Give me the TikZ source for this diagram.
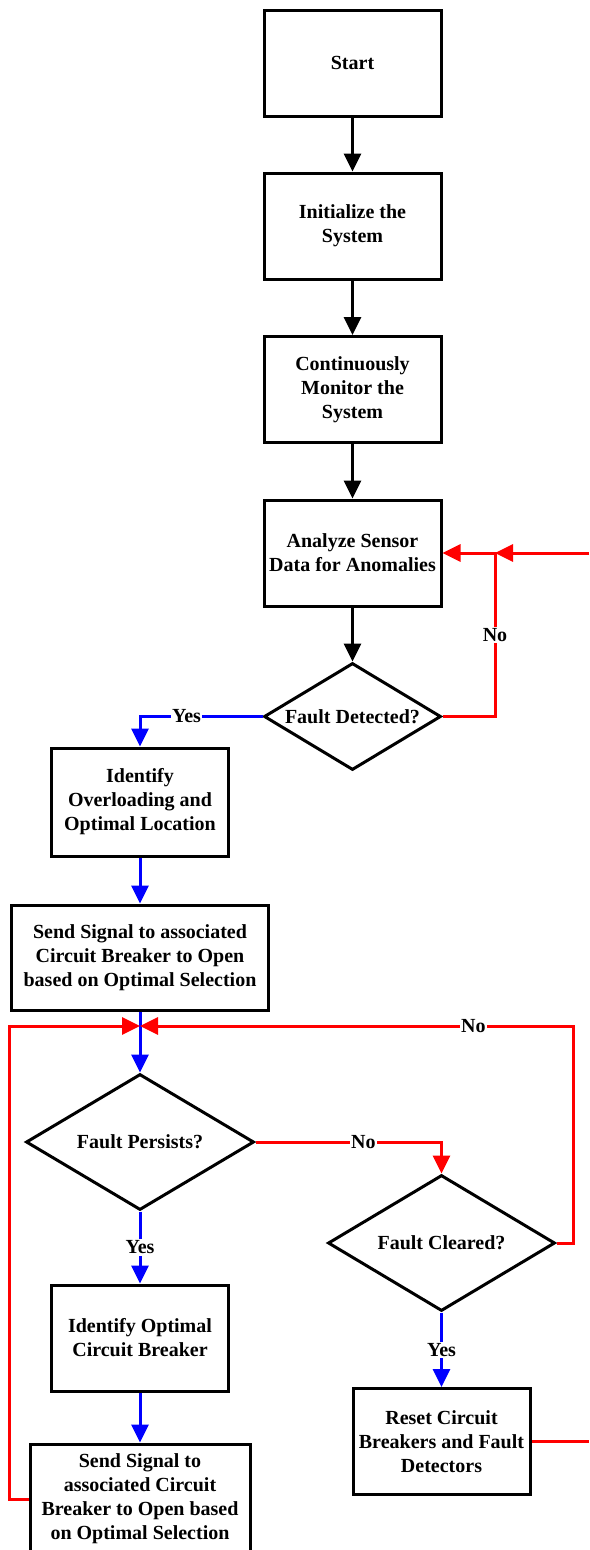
\documentclass[tikz,border=0pt]{standalone}
\usepackage{fontspec}
\setmainfont{Liberation Serif}
\usetikzlibrary{shapes.geometric,arrows.meta}

\begin{document}
\begin{tikzpicture}[x=1pt,y=-1pt,
    every node/.style={font=\bfseries\fontsize{20}{24}\selectfont,align=center},
    stepbox/.style={draw,line width=3pt,minimum width=177pt,minimum height=106pt,inner sep=2pt},
    decision/.style={draw,diamond,line width=3pt,inner sep=0pt},
    lbl/.style={fill=white,text=black,inner sep=1.5pt},
    flow/.style={line width=3pt,-{Triangle[length=18pt,width=17pt]}},
    yes/.style={blue},
    no/.style={red}]
    \useasboundingbox (0,0) rectangle (589,1550);

    \node[stepbox] (start) at (352.5,63) {Start};
    \node[stepbox] (init) at (352.5,226) {Initialize the\\System};
    \node[stepbox] (monitor) at (352.5,389.5) {Continuously\\Monitor the\\System};
    \node[stepbox] (analyze) at (352.5,553) {Analyze Sensor\\Data for Anomalies};
    \node[decision,minimum width=177pt,minimum height=107pt,
      label=center:{Fault Detected?}] (detect) at (352.5,716.5) {};

    \node[stepbox,minimum height=108pt] (overload) at (140,802) {Identify\\Overloading and\\Optimal Location};
    \node[stepbox,minimum width=257pt,minimum height=105pt] (send) at (140,957.5)
      {Send Signal to associated\\Circuit Breaker to Open\\based on Optimal Selection};
    \node[decision,minimum width=228pt,minimum height=136pt,
      label=center:{Fault Persists?}] (persist) at (140,1142) {};
    \node[stepbox] (optimal) at (140,1338) {Identify Optimal\\Circuit Breaker};
    \node[stepbox,minimum width=220pt,minimum height=110pt] (sendtwo) at (140,1499)
      {Send Signal to\\associated Circuit\\Breaker to Open based\\on Optimal Selection};

    \node[decision,minimum width=227pt,minimum height=136pt,
      label=center:{Fault Cleared?}] (cleared) at (441.5,1243) {};
    \node[stepbox] (reset) at (441.5,1441.5) {Reset Circuit\\Breakers and Fault\\Detectors};

    \coordinate (inR) at (589,553);
    \coordinate (jn) at (495,553);
    \coordinate (merge) at (140,1026);
    \coordinate (loopR) at (573,1026);
    \coordinate (loopL) at (9,1026);
    \coordinate (outR) at (589,1441.5);

    \draw[flow] (start) -- (init);
    \draw[flow] (init) -- (monitor);
    \draw[flow] (monitor) -- (analyze);
    \draw[flow] (analyze) -- (detect);

    \draw[flow,no] (detect.east) -| node[lbl,pos=0.75]{No} (jn) -- (analyze.east);
    \draw[flow,no] (inR) -- (jn);
    \draw[flow,yes] (detect.west) -| node[lbl,pos=0.31]{Yes} (overload.north);
    \draw[flow,yes] (overload) -- (send);
    \draw[flow,yes] (send.south) -- (persist.north);

    \draw[flow,no] (persist.east) -| node[lbl,pos=0.29]{No} (cleared.north);
    \draw[flow,no] (cleared.east) -| (loopR) -- node[lbl,pos=0.23]{No} (merge);
    \draw[flow,no] (sendtwo.west) -| (loopL) -- (merge);

    \draw[flow,yes] (persist.south) -- node[lbl]{Yes} (optimal.north);
    \draw[flow,yes] (optimal) -- (sendtwo);
    \draw[flow,yes] (cleared.south) -- node[lbl]{Yes} (reset.north);
    \draw[line width=3pt,no] (reset.east) -- (outR);
\end{tikzpicture}
\end{document}
